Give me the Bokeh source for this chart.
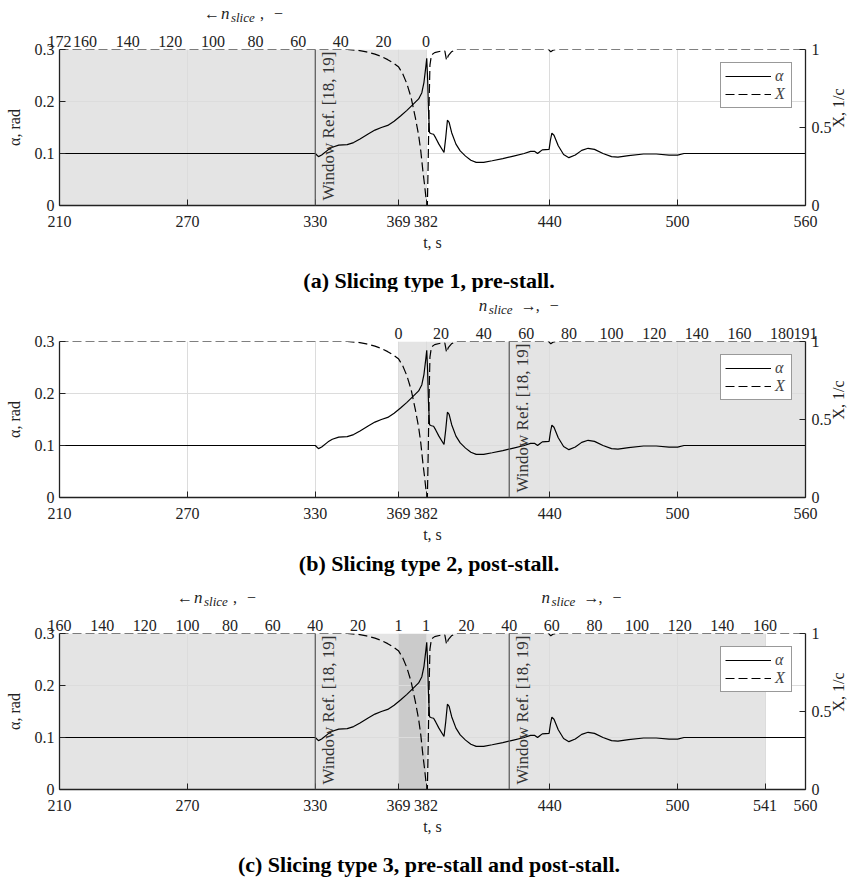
import math
from bokeh.plotting import figure
from bokeh.models import Range1d, LinearAxis, FixedTicker, BoxAnnotation, Span, Label
from bokeh.core.properties import value
from bokeh.layouts import column
from bokeh.embed import file_html
from bokeh.resources import INLINE

# ---------------- data ----------------
t_alpha = [210, 330, 331.5, 333, 336, 338, 341, 345, 348, 351, 355, 358, 361, 364, 367, 370,
           373, 376, 378.5, 380, 381, 381.9, 382.3, 382.7, 383.1, 383.6, 384.5, 385.5, 386.5,
           388, 390.4, 391.2, 392, 392.8, 394, 396, 398, 400.5, 403, 405.5, 409, 413, 418,
           423, 428, 431, 433, 434.3, 435.5, 436.5, 439.7, 440.3, 441, 442, 444, 446.5, 449,
           452, 455, 458, 461, 465, 469, 472, 477, 484, 490, 496, 500, 503, 560]
alpha = [0.100, 0.100, 0.094, 0.097, 0.107, 0.112, 0.116, 0.117, 0.121, 0.128, 0.138, 0.145,
         0.150, 0.154, 0.162, 0.172, 0.183, 0.195, 0.205, 0.217, 0.237, 0.268, 0.283, 0.245,
         0.185, 0.140, 0.138, 0.137, 0.130, 0.118, 0.102, 0.130, 0.164, 0.160, 0.140, 0.118,
         0.105, 0.095, 0.087, 0.083, 0.083, 0.086, 0.090, 0.095, 0.100, 0.104, 0.104, 0.100,
         0.104, 0.107, 0.108, 0.125, 0.139, 0.135, 0.115, 0.098, 0.092, 0.097, 0.106, 0.110,
         0.108, 0.100, 0.094, 0.093, 0.096, 0.099, 0.099, 0.097, 0.097, 0.100, 0.100]

t_X = [210, 345, 350, 354, 358, 361, 364, 367, 369, 371, 373, 375, 377, 378.5, 379.5, 380.5,
       381.3, 382, 382.6, 383.0, 383.4, 383.8, 384.5, 386, 389, 390.8, 391.6, 392.4, 393.9,
       396, 439.5, 440.5, 441.5, 443, 560]
X = [1.0, 1.0, 0.995, 0.985, 0.97, 0.955, 0.935, 0.91, 0.89, 0.845, 0.78, 0.69, 0.56, 0.45,
     0.35, 0.22, 0.13, 0.04, 0.0, 0.30, 0.65, 0.90, 0.965, 0.98, 0.99, 0.99, 0.93, 0.96,
     0.985, 1.0, 1.0, 0.985, 0.995, 1.0, 1.0]

t_ticks_ab = [210, 270, 330, 369, 382, 440, 500, 560]
t_ticks_c = [210, 270, 330, 369, 382, 440, 500, 541, 560]
alpha_ticks = [0, 0.1, 0.2, 0.3]
X_ticks = [0, 0.5, 1]

t_stall_start = 369      # post-stall slicing starts
t_stall_end = 382        # pre-stall slicing ends
t_end_c = 541
window_ref_t = [330, 421]

slices_a = [172, 160, 140, 120, 100, 80, 60, 40, 20, 0]
slices_b = [0, 20, 40, 60, 80, 100, 120, 140, 160, 180, 191]
slices_c_left = [160, 140, 120, 100, 80, 60, 40, 20, 1]
slices_c_right = [1, 20, 40, 60, 80, 100, 120, 140, 160]

captions = ["(a) Slicing type 1, pre-stall.",
            "(b) Slicing type 2, post-stall.",
            "(c) Slicing type 3, pre-stall and post-stall."]

FONT = "Liberation Serif"
FS = "16px"
LIGHT = "#e4e4e4"
DARK = "#cbcbcb"
INK = "#222222"
W = 858
BL, BR = 59, 50
FRAME_H = 156
HEAD_H = 26
TOP_B = 23
BOT_B = 52
PX_PER_S = (W - BL - BR) / 350.0


def strip_fig(height):
    f = figure(width=W, height=height, x_range=Range1d(210, 560), y_range=Range1d(0, height),
               output_backend="svg", toolbar_location=None, x_axis_type=None, y_axis_type=None,
               min_border_left=BL, min_border_right=BR, min_border_top=0, min_border_bottom=0)
    f.outline_line_color = None
    f.background_fill_color = "white"
    f.border_fill_color = "white"
    f.xgrid.visible = False
    f.ygrid.visible = False
    return f


def header(titles):
    f = strip_fig(HEAD_H)
    yc = HEAD_H - 13
    for kind, px in titles:
        t0 = 210 + (px - BL) / PX_PER_S
        if kind == "left":
            parts = [("\u2190", 0, 16, "normal", 0), ("n", 17, 17, "italic", 0),
                     ("slice", 27, 13, "italic", -4), (",", 56, 16, "normal", 0),
                     ("\u2212", 70, 16, "normal", 0)]
        else:
            parts = [("n", 0, 17, "italic", 0), ("slice", 10, 13, "italic", -4),
                     ("\u2192", 42, 16, "normal", 0), (",", 57, 16, "normal", 0),
                     ("\u2212", 71, 16, "normal", 0)]
        for txt, dx, fs, style, dy in parts:
            f.text(x=[t0], y=[yc + dy], text=[txt], x_offset=dx, text_font=value(FONT),
                   text_font_size=f"{fs}px", text_font_style=style, text_align="left",
                   text_baseline="middle", text_color=INK)
    return f


def caption_fig(height, text, from_top):
    f = strip_fig(height)
    tc = 210 + (430 - BL) / PX_PER_S
    f.text(x=[tc], y=[height - from_top], text=[text], text_font=value(FONT),
           text_font_size="22px", text_font_style="bold", text_align="center",
           text_baseline="middle", text_color="black")
    return f


def style_axis(ax):
    ax.major_tick_in = 6
    ax.major_tick_out = 0
    ax.minor_tick_line_color = None
    ax.axis_line_color = INK
    ax.axis_line_width = 1.3
    ax.major_tick_line_color = INK
    ax.major_label_text_font = FONT
    ax.major_label_text_font_size = FS
    ax.major_label_text_color = INK
    ax.axis_label_text_font = FONT
    ax.axis_label_text_font_size = FS
    ax.axis_label_text_font_style = "normal"
    ax.axis_label_text_color = INK


def make_panel(bottom_ticks, top_map, shades, windows):
    height = TOP_B + FRAME_H + BOT_B
    p = figure(width=W, height=height, x_range=Range1d(210, 560), y_range=Range1d(0, 0.3),
               output_backend="svg", toolbar_location=None,
               min_border_left=BL, min_border_right=BR, min_border_top=TOP_B,
               min_border_bottom=BOT_B)
    p.outline_line_color = None
    p.background_fill_color = "white"
    p.border_fill_color = "white"
    p.extra_y_ranges = {"xr": Range1d(0, 1)}

    for left, right, col in shades:
        p.add_layout(BoxAnnotation(left=left, right=right, fill_color=col, fill_alpha=1.0,
                                   line_color=None, level="image"))

    xa = p.xaxis[0]
    xa.ticker = FixedTicker(ticks=bottom_ticks)
    xa.axis_label = "t, s"
    ya = p.yaxis[0]
    ya.ticker = FixedTicker(ticks=alpha_ticks)
    ya.major_label_overrides = {0: "0"}
    ya.axis_label = "\u03b1, rad"
    style_axis(xa)
    style_axis(ya)
    xa.major_label_standoff = 10
    xa.axis_label_standoff = 4
    ya.major_label_standoff = 5
    ya.axis_label_standoff = 9

    ra = LinearAxis(y_range_name="xr", ticker=FixedTicker(ticks=X_ticks),
                    major_label_overrides={0: "0", 0.5: "0.5", 1: "1"},
                    axis_label="X, 1/c", axis_label_orientation=math.pi / 2)
    style_axis(ra)
    ra.major_label_standoff = 6
    ra.axis_label_standoff = 4
    p.add_layout(ra, "right")

    ta = LinearAxis(ticker=FixedTicker(ticks=list(top_map.keys())),
                    major_label_overrides=top_map)
    ta.major_tick_in = 0
    ta.major_tick_out = 0
    ta.minor_tick_line_color = None
    ta.axis_line_color = None
    ta.major_label_text_font = FONT
    ta.major_label_text_font_size = FS
    ta.major_label_text_color = INK
    ta.major_label_standoff = 3
    p.add_layout(ta, "above")

    p.xgrid.ticker = FixedTicker(ticks=bottom_ticks)
    p.ygrid.ticker = FixedTicker(ticks=alpha_ticks)
    p.xgrid.grid_line_color = "#dcdcdc"
    p.ygrid.grid_line_color = "#dcdcdc"

    for w in windows:
        p.add_layout(Span(location=w, dimension="height", line_color="#555555", line_width=1.2))
        p.add_layout(Label(x=w, y=0, x_offset=13, y_offset=5, angle=math.pi / 2,
                           text="Window Ref. [18, 19]", text_font=FONT, text_font_size="17px",
                           text_align="left", text_baseline="middle", text_color="#333333"))

    p.line(t_alpha, alpha, line_color="black", line_width=1.2, legend_label="\u03b1")
    p.line(t_X, X, y_range_name="xr", line_color="black", line_width=1.2,
           line_dash="9 4", legend_label="X")

    lg = p.legend[0]
    lg.location = "top_right"
    lg.margin = 13
    lg.padding = 4
    lg.spacing = 0
    lg.glyph_width = 46
    lg.glyph_height = 18
    lg.label_height = 18
    lg.label_width = 12
    lg.label_standoff = 4
    lg.label_text_font = FONT
    lg.label_text_font_size = FS
    lg.label_text_font_style = "italic"
    lg.border_line_color = "#333333"
    lg.border_line_width = 1
    lg.background_fill_alpha = 1.0
    return p


# panel a
top_a = {t_stall_end - n: str(n) for n in slices_a}
ha = header([("left", 204)])
pa = make_panel(t_ticks_ab, top_a, [(210, t_stall_end, LIGHT)], [window_ref_t[0]])
ca = caption_fig(35, captions[0], 23)

# panel b
top_b = {t_stall_start + n: str(n) for n in slices_b}
hb = header([("right", 480)])
pb = make_panel(t_ticks_ab, top_b, [(t_stall_start, 560, LIGHT)], [window_ref_t[1]])
cb = caption_fig(35, captions[1], 14)

# panel c
top_c = {}
for n in slices_c_left:
    top_c[t_stall_start + 1 - n] = str(n)
for n in slices_c_right:
    top_c[t_stall_end - 1 + n] = str(n)
hc = header([("left", 177), ("right", 543)])
pc = make_panel(t_ticks_c, top_c,
                [(210, t_stall_start, LIGHT), (t_stall_start, t_stall_end, DARK),
                 (t_stall_end, t_end_c, LIGHT)],
                window_ref_t)
cc = caption_fig(37, captions[2], 23)

layout = column(ha, pa, ca, hb, pb, cb, hc, pc, cc, spacing=0)
open("out.html", "w").write(file_html(layout, INLINE))
